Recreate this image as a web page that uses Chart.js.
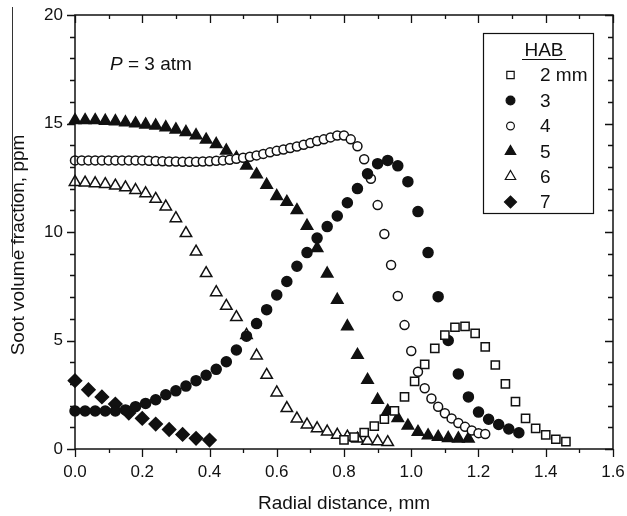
<!DOCTYPE html>
<html>
<head>
<meta charset="utf-8">
<title>Soot volume fraction</title>
<script src="https://cdn.jsdelivr.net/npm/chart.js@4.4.0/dist/chart.umd.min.js"></script>
<style>
  html, body { margin: 0; padding: 0; background: #fff; }
</style>
</head>
<body>
<canvas id="soot" width="627" height="516"></canvas>
<script>
// radial profiles of soot volume fraction (ppm) at several heights above burner
const r2 = [0.80, 0.83, 0.86, 0.89, 0.92, 0.95, 0.98, 1.01, 1.04, 1.07, 1.10, 1.13, 1.16, 1.19, 1.22, 1.25, 1.28, 1.31, 1.34, 1.37, 1.40, 1.43, 1.46];
const fv2 = [0.42, 0.55, 0.76, 1.05, 1.37, 1.76, 2.40, 3.12, 3.90, 4.64, 5.25, 5.61, 5.65, 5.33, 4.71, 3.87, 3.00, 2.18, 1.41, 0.95, 0.65, 0.45, 0.34];

const r3 = [0.00, 0.03, 0.06, 0.09, 0.12, 0.15, 0.18, 0.21, 0.24, 0.27, 0.30, 0.33, 0.36, 0.39, 0.42, 0.45, 0.48, 0.51, 0.54, 0.57, 0.60, 0.63, 0.66,
            0.69, 0.72, 0.75, 0.78, 0.81, 0.84, 0.87, 0.90, 0.93, 0.96, 0.99, 1.02, 1.05, 1.08, 1.11, 1.14, 1.17, 1.20, 1.23, 1.26, 1.29, 1.32];
const fv3 = [1.75, 1.75, 1.75, 1.75, 1.75, 1.80, 1.95, 2.10, 2.27, 2.50, 2.68, 2.90, 3.15, 3.40, 3.67, 4.02, 4.56, 5.20, 5.78, 6.42, 7.10, 7.72, 8.42,
             9.05, 9.72, 10.25, 10.74, 11.35, 12.00, 12.68, 13.15, 13.30, 13.05, 12.32, 10.94, 9.05, 7.02, 5.00, 3.46, 2.40, 1.70, 1.37, 1.13, 0.92, 0.75];

const r4 = [0.00, 0.02, 0.04, 0.06, 0.08, 0.10, 0.12, 0.14, 0.16, 0.18, 0.20, 0.22, 0.24, 0.26, 0.28, 0.30, 0.32, 0.34, 0.36, 0.38, 0.40, 0.42, 0.44,
            0.46, 0.48, 0.50, 0.52, 0.54, 0.56, 0.58, 0.60, 0.62, 0.64, 0.66, 0.68, 0.70, 0.72, 0.74, 0.76, 0.78, 0.80, 0.82, 0.84,
            0.86, 0.88, 0.90, 0.92, 0.94, 0.96, 0.98, 1.00, 1.02, 1.04, 1.06, 1.08, 1.10, 1.12, 1.14, 1.16, 1.18, 1.20, 1.22];
const fv4 = [13.30, 13.30, 13.30, 13.30, 13.30, 13.30, 13.30, 13.30, 13.30, 13.30, 13.30, 13.28, 13.27, 13.26, 13.25, 13.25, 13.24, 13.24, 13.24, 13.25, 13.26, 13.28, 13.30,
             13.33, 13.37, 13.42, 13.47, 13.53, 13.60, 13.67, 13.74, 13.80, 13.87, 13.94, 14.02, 14.10, 14.19, 14.27, 14.36, 14.45, 14.45, 14.27, 13.95,
             13.35, 12.45, 11.24, 9.91, 8.48, 7.05, 5.71, 4.52, 3.56, 2.80, 2.33, 1.95, 1.65, 1.41, 1.20, 1.02, 0.85, 0.73, 0.69];

const r5 = [0.00, 0.03, 0.06, 0.09, 0.12, 0.15, 0.18, 0.21, 0.24, 0.27, 0.30, 0.33, 0.36, 0.39, 0.42, 0.45, 0.48, 0.51, 0.54, 0.57,
            0.60, 0.63, 0.66, 0.69, 0.72, 0.75, 0.78, 0.81, 0.84, 0.87, 0.90, 0.93, 0.96, 0.99, 1.02, 1.05, 1.08, 1.11, 1.14, 1.17];
const fv5 = [15.15, 15.15, 15.15, 15.12, 15.10, 15.05, 15.00, 14.95, 14.90, 14.82, 14.72, 14.60, 14.45, 14.25, 14.05, 13.75, 13.42, 13.05, 12.65, 12.17,
             11.65, 11.38, 11.00, 10.28, 9.25, 8.08, 6.87, 5.65, 4.33, 3.18, 2.26, 1.75, 1.42, 1.07, 0.78, 0.62, 0.55, 0.50, 0.48, 0.47];

const r6 = [0.00, 0.03, 0.06, 0.09, 0.12, 0.15, 0.18, 0.21, 0.24, 0.27, 0.30, 0.33, 0.36, 0.39, 0.42, 0.45,
            0.48, 0.51, 0.54, 0.57, 0.60, 0.63, 0.66, 0.69, 0.72, 0.75, 0.78, 0.81, 0.84, 0.87, 0.90, 0.93];
const fv6 = [12.30, 12.27, 12.24, 12.20, 12.13, 12.05, 11.93, 11.78, 11.52, 11.17, 10.63, 9.94, 9.09, 8.10, 7.22, 6.59,
             6.07, 5.25, 4.30, 3.41, 2.60, 1.88, 1.40, 1.12, 0.95, 0.80, 0.65, 0.56, 0.47, 0.37, 0.35, 0.31];

const r7 = [0.00, 0.04, 0.08, 0.12, 0.16, 0.20, 0.24, 0.28, 0.32, 0.36, 0.40];
const fv7 = [3.15, 2.73, 2.40, 2.07, 1.66, 1.41, 1.15, 0.90, 0.67, 0.49, 0.41];

const habLabels = ['2 mm', '3', '4', '5', '6', '7'];

// tick positions
const xMajor = [0, 0.2, 0.4, 0.6, 0.8, 1.0, 1.2, 1.4, 1.6];
const xMinor = [0.1, 0.3, 0.5, 0.7, 0.9, 1.1, 1.3, 1.5];
const yMajor = [0, 5, 10, 15, 20];
const yMinor = [1, 2, 3, 4, 6, 7, 8, 9, 11, 12, 13, 14, 16, 17, 18, 19];

const FONT = '"Liberation Sans", Arial, Helvetica, sans-serif';
const INK = '#111';

const pairs = (xs, ys) => xs.map((x, i) => ({ x, y: ys[i] }));

const markers = [
    { data: pairs(r2, fv2), pointStyle: 'rect', radius: 5.8, open: true },
    { data: pairs(r3, fv3), pointStyle: 'circle', radius: 5.0, open: false },
    { data: pairs(r4, fv4), pointStyle: 'circle', radius: 4.5, open: true },
    { data: pairs(r5, fv5), pointStyle: 'triangle', radius: 6.6, open: false },
    { data: pairs(r6, fv6), pointStyle: 'triangle', radius: 6.6, open: true },
    { data: pairs(r7, fv7), pointStyle: 'rectRot', radius: 6.6, open: false }
];

const datasets = markers.map((m, i) => ({
    label: habLabels[i],
    data: m.data,
    showLine: false,
    clip: false,
    pointStyle: m.pointStyle,
    pointRadius: m.radius,
    pointHoverRadius: m.radius,
    pointBorderWidth: 1.5,
    pointBorderColor: INK,
    pointBackgroundColor: m.open ? '#fff' : INK
}));

const frame = {
    id: 'frame',
    afterDraw(chart) {
        const { ctx, chartArea: a, scales: { x, y } } = chart;
        ctx.save();
        ctx.strokeStyle = INK;
        ctx.lineWidth = 1.5;
        ctx.strokeRect(a.left, a.top, a.right - a.left, a.bottom - a.top);

        ctx.lineWidth = 1.3;
        ctx.beginPath();
        // bottom ticks point out, top ticks point in
        [[xMajor, 8], [xMinor, 4]].forEach(([vals, len]) => vals.forEach(v => {
            const px = Math.round(x.getPixelForValue(v)) + 0.5;
            ctx.moveTo(px, a.bottom); ctx.lineTo(px, a.bottom + len);
            ctx.moveTo(px, a.top); ctx.lineTo(px, a.top + len);
        }));
        // left ticks point out, right ticks point in
        [[yMajor, 8], [yMinor, 5]].forEach(([vals, len]) => vals.forEach(v => {
            const py = Math.round(y.getPixelForValue(v)) + 0.5;
            ctx.moveTo(a.left, py); ctx.lineTo(a.left - len, py);
            ctx.moveTo(a.right, py); ctx.lineTo(a.right - len, py);
        }));
        ctx.stroke();

        // axis titles
        ctx.fillStyle = INK;
        ctx.font = '19px ' + FONT;
        ctx.textAlign = 'center';
        ctx.textBaseline = 'alphabetic';
        ctx.fillText('Radial distance, mm', (a.left + a.right) / 2, 509);
        ctx.save();
        ctx.translate(24, 245);
        ctx.rotate(-Math.PI / 2);
        ctx.fillText('Soot volume fraction, ppm', 0, 0);
        ctx.restore();

        // thin rule beside the y title
        ctx.lineWidth = 1;
        ctx.strokeStyle = '#333';
        ctx.beginPath();
        ctx.moveTo(12.5, 7);
        ctx.lineTo(12.5, 257);
        ctx.stroke();

        // pressure note
        ctx.textAlign = 'left';
        ctx.font = 'italic 19px ' + FONT;
        ctx.fillText('P', 110, 70);
        const pw = ctx.measureText('P').width;
        ctx.font = '19px ' + FONT;
        ctx.fillText(' = 3 atm', 110 + pw, 70);

        // legend box
        ctx.strokeStyle = INK;
        ctx.lineWidth = 1.2;
        ctx.strokeRect(483.5, 33.5, 110, 180);
        ctx.textAlign = 'center';
        ctx.fillText('HAB', 544, 56);
        ctx.beginPath();
        ctx.moveTo(522, 59.5);
        ctx.lineTo(566, 59.5);
        ctx.stroke();

        ctx.textAlign = 'left';
        ctx.textBaseline = 'middle';
        const rowY = [75, 100.5, 126, 151.5, 176.5, 202];
        markers.forEach((m, i) => {
            ctx.fillStyle = m.open ? '#fff' : INK;
            ctx.strokeStyle = INK;
            Chart.helpers.drawPoint(ctx, {
                pointStyle: m.pointStyle,
                radius: m.radius - 0.6,
                rotation: 0,
                borderWidth: 1.4
            }, 510.5, rowY[i]);
            ctx.fillStyle = INK;
            ctx.fillText(habLabels[i], 540, rowY[i] + 1);
        });
        ctx.restore();
    }
};

const tickFont = { family: FONT, size: 17 };

new Chart(document.getElementById('soot'), {
    type: 'scatter',
    data: { datasets },
    options: {
        responsive: false,
        animation: false,
        devicePixelRatio: 1,
        layout: { padding: { top: 15, right: 14, left: 0, bottom: 0 } },
        plugins: { legend: { display: false }, tooltip: { enabled: false } },
        scales: {
            x: {
                type: 'linear',
                min: 0,
                max: 1.6,
                // fixed box so the plot frame sits where the labels expect it
                afterFit: s => { s.height = 67; s.paddingLeft = 0; s.paddingRight = 0; },
                afterBuildTicks: s => { s.ticks = xMajor.map(v => ({ value: v })); },
                grid: { display: false, drawTicks: false },
                border: { display: false },
                ticks: {
                    color: INK,
                    font: tickFont,
                    padding: 13,
                    maxRotation: 0,
                    callback: v => Number(v).toFixed(1)
                }
            },
            y: {
                type: 'linear',
                min: 0,
                max: 20,
                afterFit: s => { s.width = 75; s.paddingTop = 0; s.paddingBottom = 0; },
                afterBuildTicks: s => { s.ticks = yMajor.map(v => ({ value: v })); },
                grid: { display: false, drawTicks: false },
                border: { display: false },
                ticks: {
                    color: INK,
                    font: tickFont,
                    padding: 12,
                    callback: v => String(v)
                }
            }
        }
    },
    plugins: [frame]
});
</script>
</body>
</html>
